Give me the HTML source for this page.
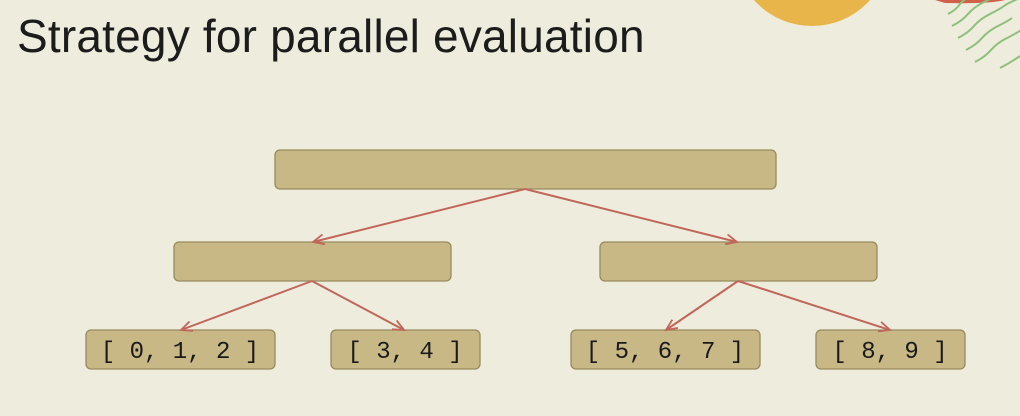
<!DOCTYPE html>
<html><head><meta charset="utf-8"><style>
html,body{margin:0;padding:0;}
body{width:1020px;height:416px;background:#eeecdc;overflow:hidden;position:relative;font-family:"Liberation Sans",sans-serif;}
svg{position:absolute;left:0;top:0;}
.title{position:absolute;left:17px;top:10px;font-size:46px;line-height:52px;color:#1c1c1c;letter-spacing:0.2px;}
</style></head><body>
<svg width="1020" height="416">
  <defs>
    <marker id="ah" markerWidth="14" markerHeight="12" refX="12" refY="6" orient="auto" markerUnits="userSpaceOnUse">
      <path d="M1,1 L12,6 L1,11" fill="none" stroke="#c0665a" stroke-width="1.8"/>
    </marker>
  </defs>
  <circle cx="812" cy="-52" r="78" fill="#e8b54a"/>
  <path d="M935,0 L1005,0 Q990,4 945,3 Z" fill="#d0604a"/>
  <g stroke="#8cc07a" stroke-width="2" fill="none">
    <path d="M948,14 q8,-4 12,-10 t14,-8"/>
    <path d="M952,26 q10,-5 16,-12 t16,-12 t14,-6"/>
    <path d="M958,38 q10,-5 16,-12 t16,-12 t14,-8 t16,-8"/>
    <path d="M966,50 q10,-5 16,-12 t16,-12 t14,-8"/>
    <path d="M975,62 q10,-5 16,-12 t16,-12 t14,-8"/>
    <path d="M1000,68 q10,-5 20,-12"/>
  </g>
  <g fill="#c8b886" stroke="#978a5e" stroke-width="1.3">
    <rect x="275" y="150" width="501" height="39" rx="5"/>
    <rect x="174" y="242" width="277" height="39" rx="5"/>
    <rect x="600" y="242" width="277" height="39" rx="5"/>
    <rect x="86" y="330" width="189" height="39" rx="5"/>
    <rect x="331" y="330" width="149" height="39" rx="5"/>
    <rect x="571" y="330" width="189" height="39" rx="5"/>
    <rect x="816" y="330" width="149" height="39" rx="5"/>
  </g>
  <g stroke="#c0665a" stroke-width="2" fill="none" marker-end="url(#ah)">
    <line x1="525" y1="189" x2="313" y2="242"/>
    <line x1="525" y1="189" x2="737" y2="242"/>
    <line x1="312" y1="281" x2="181" y2="330"/>
    <line x1="312" y1="281" x2="404" y2="330"/>
    <line x1="738" y1="281" x2="666" y2="330"/>
    <line x1="738" y1="281" x2="890" y2="330"/>
  </g>
  <g font-family="'Liberation Mono',monospace" font-size="24" fill="#1a1a1a" text-anchor="middle">
    <text x="180" y="358" xml:space="preserve">[ 0, 1, 2 ]</text>
    <text x="405" y="358" xml:space="preserve">[ 3, 4 ]</text>
    <text x="665" y="358" xml:space="preserve">[ 5, 6, 7 ]</text>
    <text x="890" y="358" xml:space="preserve">[ 8, 9 ]</text>
  </g>
</svg>
<div class="title">Strategy for parallel evaluation</div>
</body></html>
